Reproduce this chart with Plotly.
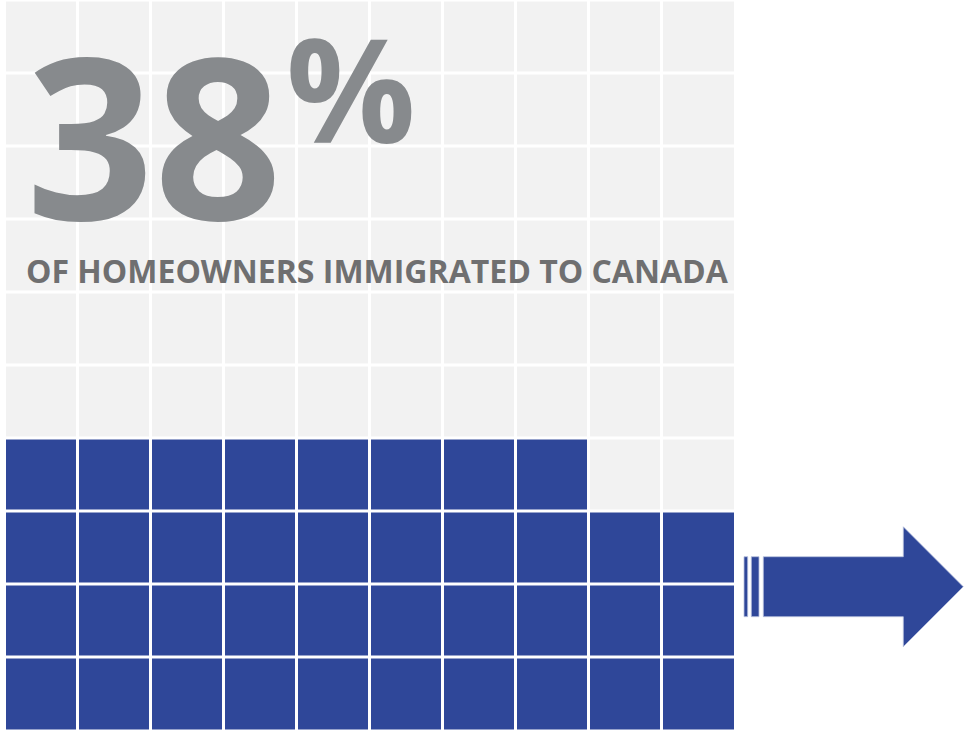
import numpy as np
import plotly.graph_objects as go

# Waffle data: share of homeowners who immigrated to Canada
percent = 38
n_rows = 10
n_cols = 10
headline = "38"
headline_unit = "%"
subtitle = "OF HOMEOWNERS IMMIGRATED TO CANADA"

FILL = "#2f4799"
EMPTY = "#f2f2f2"
GREY_BIG = "#878a8d"
GREY_TEXT = "#6f6f70"

W, H = 974, 736


def px(x):
    """Horizontal pixel -> paper fraction."""
    return x / W


def py(y):
    """Vertical pixel (from top) -> paper fraction."""
    return 1 - y / H


# Cells fill bottom row first, left to right
z = np.zeros((n_rows, n_cols))
for k in range(percent):
    r, c = divmod(k, n_cols)
    z[r, c] = 1

fig = go.Figure()
fig.add_trace(go.Heatmap(
    z=z,
    x=list(range(n_cols)),
    y=list(range(n_rows)),
    colorscale=[[0, EMPTY], [0.5, EMPTY], [0.5, FILL], [1, FILL]],
    zmin=0, zmax=1,
    xgap=3, ygap=3,
    showscale=False,
    hoverinfo="skip",
))

fig.update_layout(
    width=W, height=H,
    margin=dict(l=0, r=0, t=0, b=0),
    paper_bgcolor="white",
    plot_bgcolor="white",
    showlegend=False,
    xaxis=dict(domain=[px(5), px(735.5)], range=[-0.5, n_cols - 0.5],
               visible=False, fixedrange=True),
    yaxis=dict(domain=[py(731), py(0.5)], range=[-0.5, n_rows - 0.5],
               visible=False, fixedrange=True),
)

edge = dict(color="#b9c1de", width=0.8)
# arrow: two thin stripes, shaft and head
for x0, x1 in [(744, 747.7), (751.3, 759)]:
    fig.add_shape(type="rect", xref="paper", yref="paper",
                  x0=px(x0), x1=px(x1), y0=py(556.7), y1=py(616.7),
                  fillcolor=FILL, line=edge)
pts = [(763.3, 556.7), (903.3, 556.7), (903.3, 526.7), (963.3, 586.7),
       (903.3, 646.7), (903.3, 616.7), (763.3, 616.7)]
path = "M " + " L ".join(f"{px(a):.5f} {py(b):.5f}" for a, b in pts) + " Z"
fig.add_shape(type="path", xref="paper", yref="paper", path=path,
              fillcolor=FILL, line=edge)

fig.add_annotation(xref="paper", yref="paper", x=px(154), y=py(134),
                   text=headline, showarrow=False,
                   xanchor="center", yanchor="middle",
                   font=dict(family="Open Sans", size=224, color=GREY_BIG,
                             weight="bold"))
fig.add_annotation(xref="paper", yref="paper", x=px(351), y=py(87),
                   text=headline_unit, showarrow=False,
                   xanchor="center", yanchor="middle",
                   font=dict(family="Open Sans", size=144, color=GREY_BIG,
                             weight="bold"))
fig.add_annotation(xref="paper", yref="paper", x=px(377), y=py(271),
                   text=subtitle, showarrow=False,
                   xanchor="center", yanchor="middle",
                   font=dict(family="Open Sans", size=32, color=GREY_TEXT,
                             weight="bold"))

fig.write_html("out.html")
